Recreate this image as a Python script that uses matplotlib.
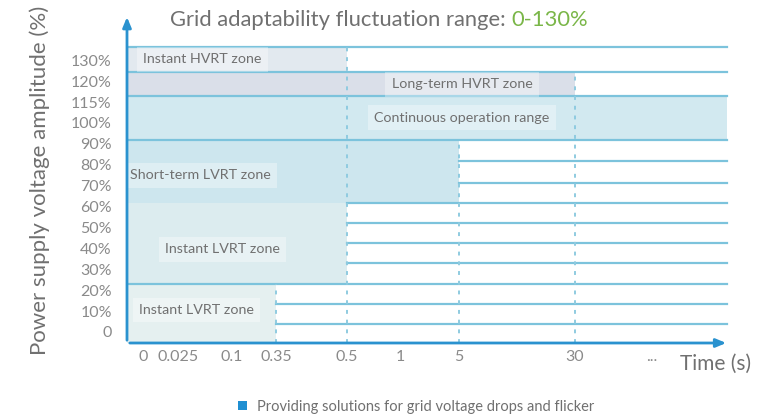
import matplotlib.pyplot as plt
from matplotlib.patches import Rectangle, Patch

plt.rcParams['font.family'] = ['Lato', 'DejaVu Sans']

# --- data ---
time_labels = ['0', '0.025', '0.1', '0.35', '0.5', '1', '5', '30', '...']
voltage_labels = ['0', '10%', '20%', '30%', '40%', '50%', '60%', '70%',
                  '80%', '90%', '100%', '115%', '120%', '130%']

# zones: label, end of zone (time label, None = open end), lower / upper row
zone_names = ['Instant HVRT zone', 'Long-term HVRT zone', 'Continuous operation range',
              'Short-term LVRT zone', 'Instant LVRT zone', 'Instant LVRT zone']
zone_end = ['0.5', '30', None, '5', '0.5', '0.35']
zone_low = [12.44, 11.3, 9.19, 6.17, 2.3, -0.53]
zone_high = [13.64, 12.44, 11.3, 9.19, 6.17, 2.3]

# horizontal boundary lines and the time label where each one starts
grid_rows = [0.38, 1.34, 2.3, 3.3, 4.26, 5.2, 6.17, 7.13, 8.18, 9.19, 11.3, 12.44, 13.64]
grid_start = ['0.35', '0.35', '0', '0.5', '0.5', '0.5', '0.5', '5', '5', '0', '0', '0', '0']

# dashed time markers: time label, top row
marker_times = ['0.35', '0.5', '5', '30']
marker_top = [2.3, 13.64, 9.19, 12.44]

# --- layout (schematic, not to scale) ---
tick_x = [16, 51, 105, 149, 220, 273, 332, 448, 525]
xpos = dict(zip(time_labels, tick_x))
xpos['0'] = 0
x_end = 600
y_bottom = -0.53

zone_colors = ['#e2e9ef', '#dadfe9', '#d2e9f0', '#cde6ee', '#dcecef', '#e5f0f0']
line_color = '#7cc3dc'
axis_color = '#2a92cf'
text_gray = '#707070'

fig = plt.figure(figsize=(7.66, 4.17), dpi=100)
ax = fig.add_axes([127 / 766, 74 / 417, 620 / 766, 343 / 417])
ax.set_xlim(0, 620)
ax.set_ylim(y_bottom, y_bottom + 343 / 20.9)
for s in ax.spines.values():
    s.set_visible(False)

for name, end, lo, hi, c in zip(zone_names, zone_end, zone_low, zone_high, zone_colors):
    xe = x_end if end is None else xpos[end]
    ax.add_patch(Rectangle((0, lo), xe, hi - lo, facecolor=c, edgecolor='none', zorder=1))

for row, start in zip(grid_rows, grid_start):
    ax.plot([xpos[start], x_end], [row, row], color=line_color, lw=1.6, zorder=2)

for t, top in zip(marker_times, marker_top):
    ax.plot([xpos[t], xpos[t]], [y_bottom, top], color='#8fcbe0', lw=1.4,
            ls=(0, (2, 3)), zorder=2)

# zone labels with faint boxes
box = dict(boxstyle='square,pad=0.45', fc='white', ec='none', alpha=0.35)
label_pos = [(16, 13.05, 'left'), (335, 11.85, 'center'), (335, 10.25, 'center'),
             (3, 7.5, 'left'), (38, 3.95, 'left'), (12, 1.05, 'left')]
for name, (x, y, ha) in zip(zone_names, label_pos):
    ax.text(x, y, name, ha=ha, va='center', fontsize=10.3, color=text_gray,
            bbox=box, zorder=3)

# axes with arrows
ax.annotate('', xy=(0, 15.2), xytext=(0, y_bottom),
            arrowprops=dict(arrowstyle='-|>,head_width=0.25,head_length=0.6',
                            color=axis_color, lw=2), annotation_clip=False, zorder=4)
ax.annotate('', xy=(x_end + 2, y_bottom), xytext=(0, y_bottom),
            arrowprops=dict(arrowstyle='-|>,head_width=0.25,head_length=0.6',
                            color=axis_color, lw=2), annotation_clip=False, zorder=4)

ax.set_xticks(tick_x, time_labels)
ax.set_yticks(range(len(voltage_labels)), voltage_labels)
ax.tick_params(axis='x', length=0, pad=5, labelsize=11.5, labelcolor='#8a8a8a')
ax.tick_params(axis='y', length=0, pad=11, labelsize=11.5, labelcolor='#8a8a8a')

ax.text(553, y_bottom - 1.0, 'Time (s)', ha='left', va='center', fontsize=15,
        color=text_gray)

fig.text(40 / 766, 1 - 180 / 417, 'Power supply voltage amplitude (%)', rotation=90,
         ha='center', va='center', fontsize=16, color=text_gray)

t1 = fig.text(170 / 766, 1 - 20 / 417, 'Grid adaptability fluctuation range: ',
              ha='left', va='center', fontsize=15.8, color=text_gray)
fig.canvas.draw()
bb = t1.get_window_extent()
fig.text(bb.x1 / 766, 1 - 20 / 417, '0-130%', ha='left', va='center',
         fontsize=15.8, color='#7ab648')

fig.legend(handles=[Patch(facecolor='#1f8fd2', edgecolor='none')],
           labels=['Providing solutions for grid voltage drops and flicker'],
           loc='center', bbox_to_anchor=(416 / 766, 1 - 407 / 417), frameon=False,
           fontsize=10.5, labelcolor=text_gray, handlelength=0.6, handleheight=0.6,
           handletextpad=0.7)

fig.savefig('out.png', dpi=100)
